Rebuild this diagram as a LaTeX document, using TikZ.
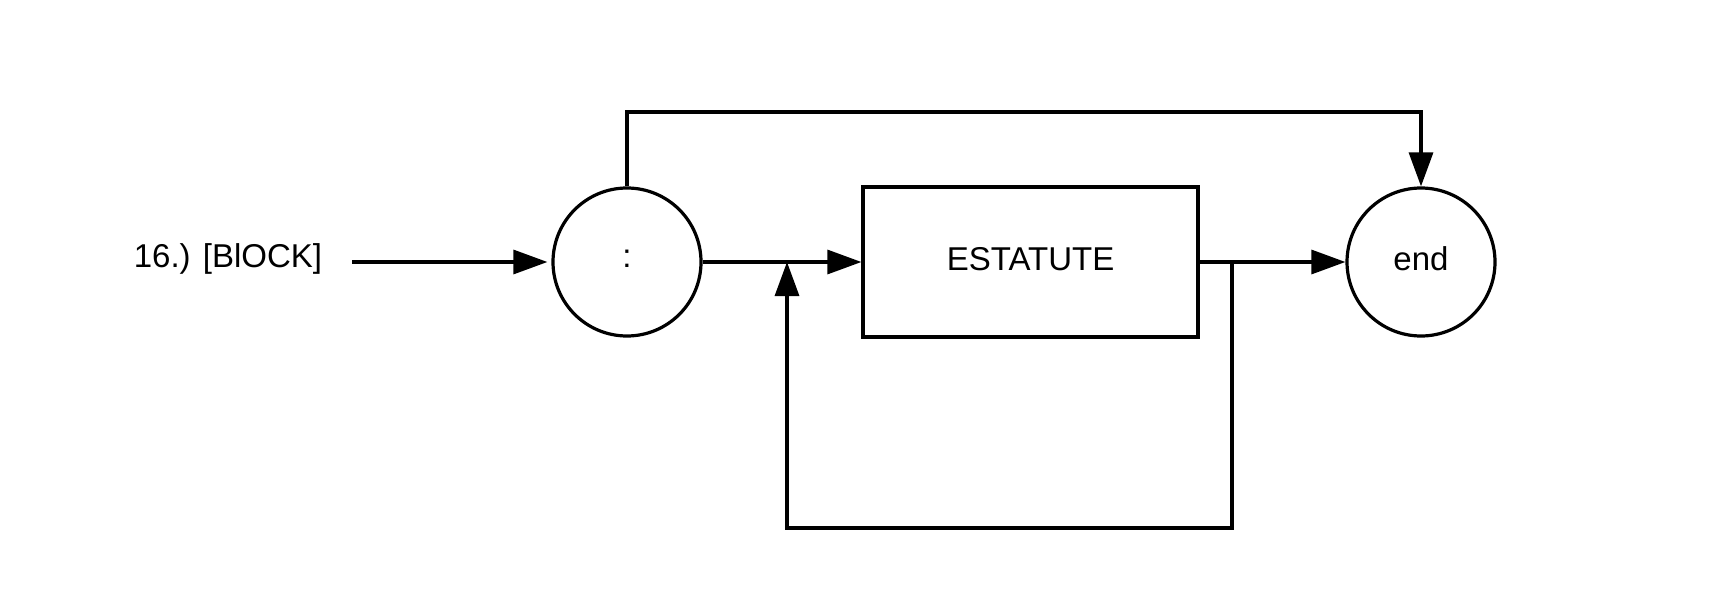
\documentclass[tikz,border=0pt]{standalone}
\usepackage{fontspec}
\setmainfont{Liberation Sans}
\usetikzlibrary{arrows.meta}
\begin{document}
\begin{tikzpicture}[x=1pt,y=-1pt,
  every node/.style={font=\fontsize{33}{39}\selectfont},
  arr/.style={line width=3.2pt,-{Triangle[length=34pt,width=24pt]}},
  state/.style={draw,circle,line width=3.2pt,minimum size=148pt,inner sep=0pt,text depth=7pt},
  box/.style={draw,rectangle,line width=3.2pt,minimum width=335pt,minimum height=150pt,inner sep=0pt,text depth=7pt}]
\useasboundingbox (0,0) rectangle (1718,615);
\node (lbl) at (228,259) {16.) [BlOCK]};
\node[state] (c1) at (627,262) {:};
\node[box] (rect) at (1030.5,262) {ESTATUTE};
\node[state] (c2) at (1421,262) {end};
\coordinate (s0) at (352,262);
\coordinate (t1) at (627,112);
\coordinate (f1) at (1232,262);
\coordinate (f2) at (1232,528);
\coordinate (f4) at (787,262);
\draw[arr, shorten >=4pt] (s0) -- (c1.west);
\draw[arr] (c1.east) -- (rect.west);
\draw[arr] (rect.east) -- (c2.west);
\draw[arr] (c1.north) -- (t1) -| (c2.north);
\draw[arr] (f1) -- (f2) -| (f4);
\end{tikzpicture}
\end{document}
